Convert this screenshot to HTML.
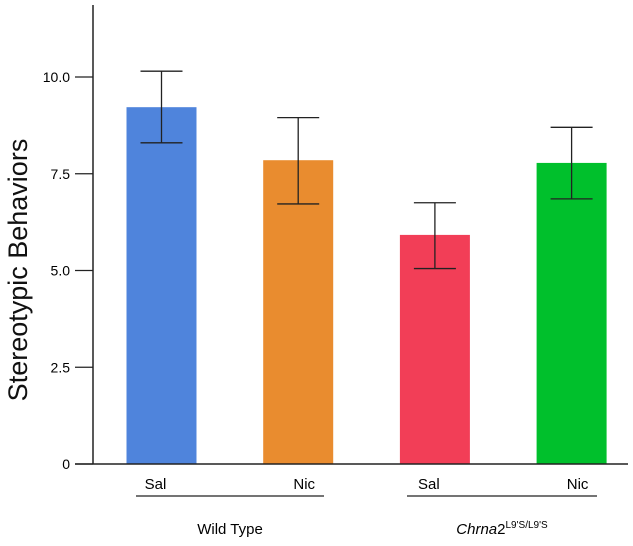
<!DOCTYPE html>
<html><head><meta charset="utf-8"><style>
body{margin:0;background:#fff}
svg{display:block;font-family:"Liberation Sans",Arial,sans-serif}
</style></head><body>
<svg id="c" width="633" height="546">
<g id="g"></g>
<text transform="translate(27,270) rotate(-90)" text-anchor="middle" font-size="27" fill="#111">Stereotypic Behaviors</text>
<line x1="136" y1="496" x2="324" y2="496" stroke="#222" stroke-width="1.3"/>
<line x1="407" y1="496" x2="597" y2="496" stroke="#222" stroke-width="1.3"/>
<text x="230" y="534" text-anchor="middle" font-size="15">Wild Type</text>
<text x="502" y="534" text-anchor="middle" font-size="15"><tspan font-style="italic">Chrna</tspan>2<tspan font-size="10" dy="-6">L9'S/L9'S</tspan></text>
</svg>
<script>
const categories=["Sal","Nic","Sal","Nic"];
const values=[9.22,7.85,5.92,7.78];
const errLow=[8.3,6.72,5.05,6.85];
const errHigh=[10.15,8.95,6.75,8.7];
const colors=["#4f84dc","#e98c2f","#f23e57","#00c02c"];
const ticks=[0,2.5,5.0,7.5,10.0];
const tickLabels=["0","2.5","5.0","7.5","10.0"];
const NS="http://www.w3.org/2000/svg",g=document.getElementById('g');
const y=v=>464-v*38.7;
const xc=i=>161.5+i*136.7;
function mk(t,a){const e=document.createElementNS(NS,t);for(const k in a)e.setAttribute(k,a[k]);g.appendChild(e);return e;}
for(let i=0;i<values.length;i++){
 const b=mk('rect',{x:xc(i)-35,y:y(values[i]),width:70,height:y(0)-y(values[i]),fill:colors[i]});
 
 
 const e=mk('path',{d:`M${xc(i)-21},${y(errHigh[i])}H${xc(i)+21}M${xc(i)},${y(errHigh[i])}V${y(errLow[i])}M${xc(i)-21},${y(errLow[i])}H${xc(i)+21}`,stroke:'#222','stroke-width':1.3,fill:'none'});
 
 
 const t=mk('text',{x:xc(i)+(i%2?6:-6),y:489,'text-anchor':'middle','font-size':15});
 t.textContent=categories[i];
 
 
}
const ya=mk('line',{x1:93,y1:5,x2:93,y2:464,stroke:'#222','stroke-width':1.5});


const xa=mk('line',{x1:75,y1:464,x2:628,y2:464,stroke:'#222','stroke-width':1.5});


ticks.forEach((v,i)=>{
 const l=mk('line',{x1:75,y1:y(v),x2:93,y2:y(v),stroke:'#222','stroke-width':1.3});
 
 
 const t=mk('text',{x:70,y:y(v)+5,'text-anchor':'end','font-size':14});
 t.textContent=tickLabels[i];
 
 
});
</script>
</body></html>
